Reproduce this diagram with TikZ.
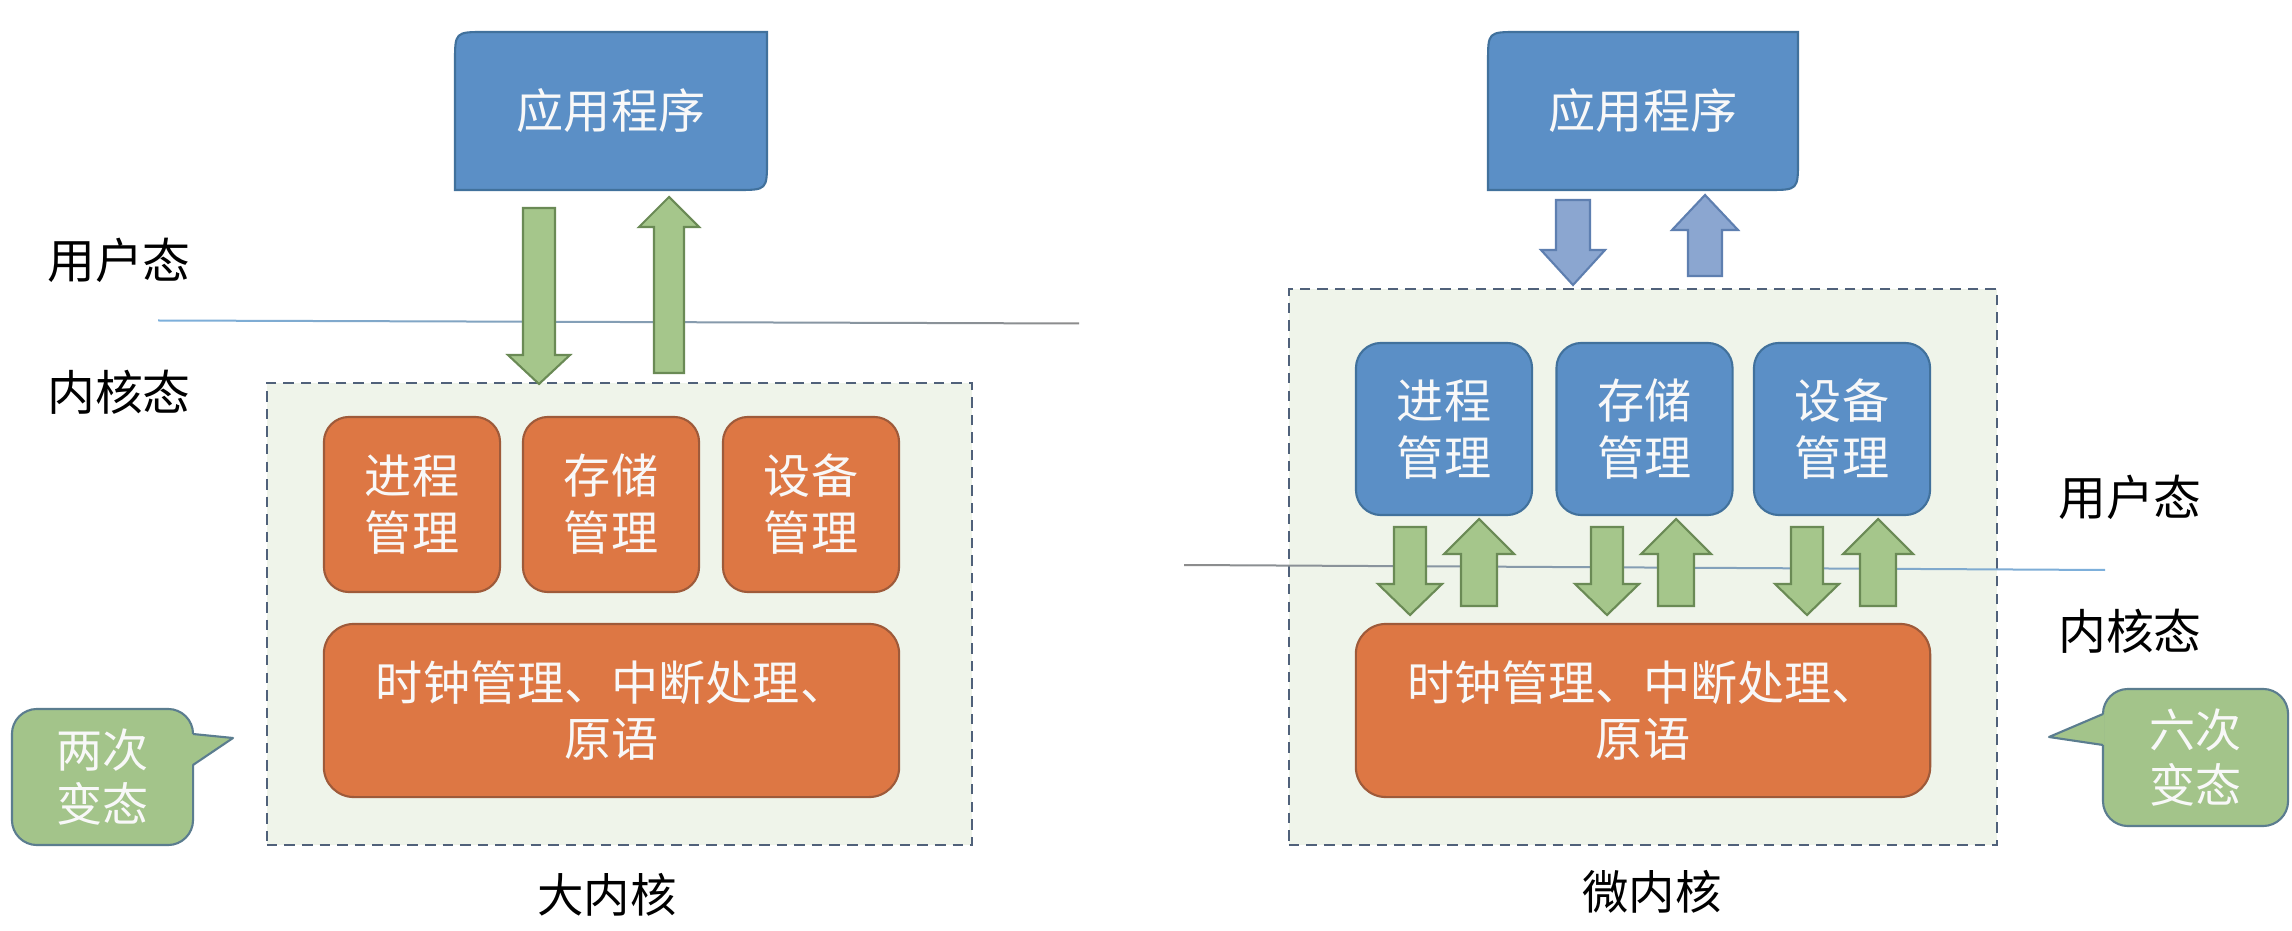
\documentclass[tikz,border=0pt]{standalone}
\usepackage{fontspec}
\setmainfont{Noto Sans CJK SC}
\definecolor{boxblue}{HTML}{5B8FC6}
\definecolor{boxblueline}{HTML}{41719C}
\definecolor{boxorange}{HTML}{DD7744}
\definecolor{boxorangeline}{HTML}{9E5A3A}
\definecolor{arrgreen}{HTML}{A5C68B}
\definecolor{arrgreenline}{HTML}{6A8A55}
\definecolor{arrblue}{HTML}{8BA6D0}
\definecolor{arrblueline}{HTML}{5E7FB0}
\definecolor{panelfill}{HTML}{EFF4EA}
\definecolor{panelline}{HTML}{50617A}
\definecolor{callgreen}{HTML}{A3C48A}
\definecolor{callline}{HTML}{5B7D8F}
\definecolor{lineblue}{HTML}{7DB0DC}
\definecolor{linegray}{HTML}{8C8C8C}
\definecolor{softwhite}{HTML}{F8F8F8}
\tikzset{
  panel/.style={draw=panelline, fill=panelfill, dash pattern=on 3pt off 2pt, line width=0.6pt, inner sep=0pt},
  modbox/.style={rounded corners=0.25cm, line width=0.6pt, text=softwhite, align=center,
    font=\fontsize{13.4pt}{16.2pt}\selectfont, inner sep=0pt},
  orangebox/.style={modbox, fill=boxorange, draw=boxorangeline},
  bluebox/.style={modbox, fill=boxblue, draw=boxblueline},
  appshape/.style={fill=boxblue, draw=boxblueline, line width=0.6pt},
  apptext/.style={text=softwhite, font=\fontsize{13.4pt}{16.2pt}\selectfont, inner sep=0pt},
  greenarrow/.style={fill=arrgreen, draw=arrgreenline, line width=0.6pt},
  bluearrow/.style={fill=arrblue, draw=arrblueline, line width=0.6pt},
  modelabel/.style={text=black, font=\fontsize{13.6pt}{16pt}\selectfont, inner sep=0pt},
  captionlabel/.style={text=black, font=\fontsize{13.2pt}{16pt}\selectfont, inner sep=0pt},
  callbody/.style={fill=callgreen, draw=callline, line width=0.6pt, rounded corners=0.25cm,
    text=softwhite, align=center, font=\fontsize{13.1pt}{15.6pt}\selectfont, inner sep=0pt},
}
% #1 style, #2 cx, #3 start y, #4 head-base y, #5 tip y, #6 shaft half width, #7 head half width
\newcommand{\blockarrow}[7]{%
  \draw[#1] ({#2-#6},#3) -- ({#2+#6},#3) -- ({#2+#6},#4) -- ({#2+#7},#4) -- (#2,#5)
    -- ({#2-#7},#4) -- ({#2-#6},#4) -- cycle;}
\begin{document}
\begin{tikzpicture}[x=0.01cm, y=-0.01cm]
\useasboundingbox (0,0) rectangle (2292,931);
\fill[white] (0,0) rectangle (2292,931);

% ===== Left: monolithic kernel =====
\node[panel, minimum width=7.05cm, minimum height=4.62cm] (lpanel) at (619.5,614) {};
\shade[left color=lineblue, right color=linegray] (158,319.5) -- (1079,322.5) -- (1079,324.5) -- (158,321.5) -- cycle;

\draw[appshape] (455,190) -- (455,62) .. controls (455,32) .. (485,32) -- (767,32) -- (767,160)
  .. controls (767,190) .. (737,190) -- cycle;
\node[apptext] (lapp) at (611,111) {应用程序};

\blockarrow{greenarrow}{539}{208}{355}{384}{16}{31}
\blockarrow{greenarrow}{669}{373}{227}{197}{15}{30}

\node[orangebox, minimum width=1.76cm, minimum height=1.75cm] (lproc) at (412,504.5) {进程\\管理};
\node[orangebox, minimum width=1.76cm, minimum height=1.75cm] (lmem) at (611,504.5) {存储\\管理};
\node[orangebox, minimum width=1.76cm, minimum height=1.75cm] (ldev) at (811,504.5) {设备\\管理};
\node[orangebox, minimum width=5.75cm, minimum height=1.73cm, rounded corners=0.3cm] (lcore) at (611.5,710.5)
  {时钟管理、中断处理、\\原语};

\node[modelabel] (luser) at (119,260) {用户态};
\node[modelabel] (lkern) at (119,392) {内核态};
\node[captionlabel] (lcap) at (607,895) {大内核};

\node[callbody, minimum width=1.81cm, minimum height=1.36cm] (lcall) at (102.5,777) {两次\\变态};
\fill[callgreen] (191.5,734) -- (233,738) -- (191.5,765) -- cycle;
\draw[callline, line width=0.6pt, line join=round] (193,734) -- (233,738) -- (193,765);

% ===== Right: microkernel =====
\node[panel, minimum width=7.08cm, minimum height=5.56cm] (rpanel) at (1643,567) {};

\draw[appshape] (1488,190) -- (1488,62) .. controls (1488,32) .. (1518,32) -- (1798,32) -- (1798,160)
  .. controls (1798,190) .. (1768,190) -- cycle;
\node[apptext] (rapp) at (1643,111) {应用程序};

\blockarrow{bluearrow}{1573}{200}{250}{285}{17}{32}
\blockarrow{bluearrow}{1705}{276}{230}{195}{17}{33}

\node[bluebox, minimum width=1.76cm, minimum height=1.72cm] (rproc) at (1444,429) {进程\\管理};
\node[bluebox, minimum width=1.76cm, minimum height=1.72cm] (rmem) at (1644.5,429) {存储\\管理};
\node[bluebox, minimum width=1.76cm, minimum height=1.72cm] (rdev) at (1842,429) {设备\\管理};
\node[orangebox, minimum width=5.74cm, minimum height=1.73cm, rounded corners=0.3cm] (rcore) at (1643,710.5)
  {时钟管理、中断处理、\\原语};

\shade[left color=linegray, right color=lineblue] (1184,564) -- (2105,569) -- (2105,571) -- (1184,566) -- cycle;

\blockarrow{greenarrow}{1410}{527}{584}{615}{16}{32}
\blockarrow{greenarrow}{1479}{606}{554}{519}{18}{35}
\blockarrow{greenarrow}{1607}{527}{584}{615}{16}{32}
\blockarrow{greenarrow}{1676}{606}{554}{519}{18}{35}
\blockarrow{greenarrow}{1807}{527}{584}{615}{16}{32}
\blockarrow{greenarrow}{1878}{606}{554}{519}{18}{35}

\node[modelabel] (ruser) at (2130,497) {用户态};
\node[modelabel] (rkern) at (2130,631) {内核态};
\node[captionlabel] (rcap) at (1652,892) {微内核};

\node[callbody, minimum width=1.85cm, minimum height=1.37cm] (rcall) at (2195.5,757.5) {六次\\变态};
\fill[callgreen] (2104.5,714) -- (2049,737) -- (2104.5,745) -- cycle;
\draw[callline, line width=0.6pt, line join=round] (2103,714) -- (2049,737) -- (2103,745);
\end{tikzpicture}
\end{document}
